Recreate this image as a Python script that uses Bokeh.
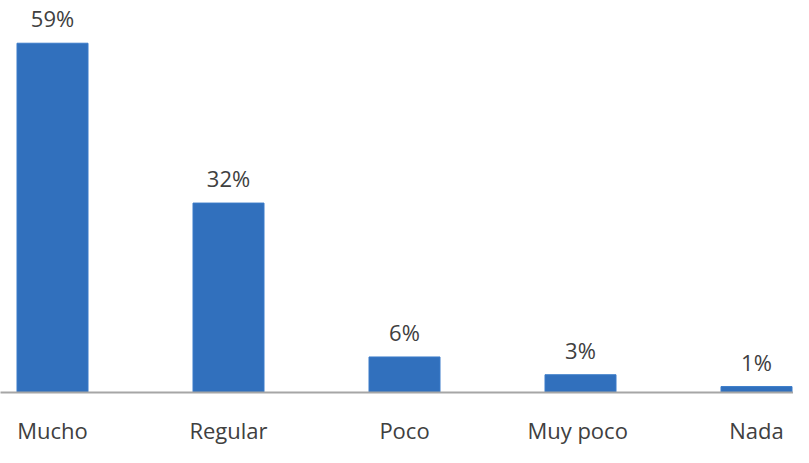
from bokeh.plotting import figure
from bokeh.models import ColumnDataSource, FixedTicker, Range1d
from bokeh.core.properties import value
from bokeh.embed import file_html
from bokeh.resources import INLINE

categories = ["Mucho", "Regular", "Poco", "Muy  poco", "Nada"]
percentages = [59, 32, 6, 3, 1]
labels = ["59%", "32%", "6%", "3%", "1%"]

xs = list(range(len(categories)))
src = ColumnDataSource(dict(x=xs, top=percentages, label=labels))

W, H = 793, 447
BORDER_BOTTOM = 53
px_per_cat = 176.0
start = -52.0 / px_per_cat
frame_h = H - BORDER_BOTTOM
px_per_pct = 5.95
p = figure(width=W, height=H, output_backend="svg", toolbar_location=None,
           x_range=Range1d(start, start + W / px_per_cat),
           y_range=Range1d(0, frame_h / px_per_pct),
           min_border_left=0, min_border_right=0, min_border_top=0,
           min_border_bottom=BORDER_BOTTOM)
p.outline_line_color = None
p.background_fill_color = "white"
p.border_fill_color = "white"
p.grid.visible = False
p.yaxis.visible = False

p.vbar(x="x", top="top", width=71 / px_per_cat, bottom=0, source=src,
       fill_color="#3170bd", line_color="#3a7bc9", line_width=1)
p.text(x="x", y="top", text="label", source=src, text_align="center",
       text_baseline="middle", y_offset=-25, text_font=value("Open Sans"),
       text_font_size="22px", text_color="#404040")

ax = p.xaxis[0]
ax.ticker = FixedTicker(ticks=xs)
ax.major_label_overrides = {i: c for i, c in zip(xs, categories)}
ax.major_tick_line_color = None
ax.minor_tick_line_color = None
ax.axis_line_color = "#a6a6a6"
ax.axis_line_width = 2
ax.major_label_standoff = 16
ax.major_label_text_font = "Open Sans"
ax.major_label_text_font_size = "22px"
ax.major_label_text_color = "#404040"

open("out.html", "w").write(file_html(p, INLINE))
